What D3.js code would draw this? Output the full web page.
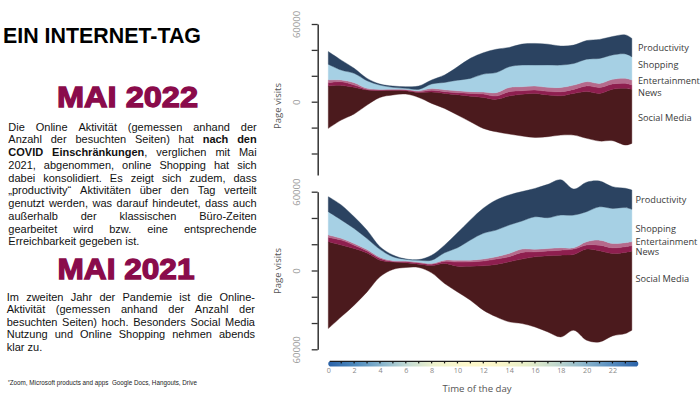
<!DOCTYPE html>
<html>
<head>
<meta charset="utf-8">
<script src="https://cdn.jsdelivr.net/npm/d3@7"></script>
<style>
  body { margin: 0; background: #fff; }
  svg { display: block; }
  .para { font-family: "Liberation Sans", Arial, sans-serif; font-size: 11px; fill: #111; }
  .chart text { font-family: "Open Sans", sans-serif; }
</style>
</head>
<body>
<div id="chart"></div>
<script>
// hour of the day for every sample (the last one is half an hour before midnight)
const hours = [0, 1, 2, 3, 4, 5, 6, 7, 8, 9, 10, 11, 12, 13, 14, 15, 16, 17, 18, 19, 20, 21, 22, 23, 23.5];

// stacking order, bottom to top
const categories = ["Social Media", "News", "Entertainment", "Shopping", "Productivity"];
const categoryColors = ["#4b1a1d", "#8e1f4f", "#b56a8c", "#a6d0e4", "#2b4361"];

// Mai 2022, page visits
const productivity2022 = [9800, 7700, 3900, 1800, 800, 1000, 1300, 2600, 3100, 5700, 10300, 15500, 16500, 18000, 14900, 16200, 16700, 16000, 14700, 14200, 14400, 14700, 14200, 14700, 14200];
const shopping2022 = [12100, 7700, 7200, 5900, 3300, 1500, 800, 1000, 3600, 5700, 8200, 10300, 13900, 15500, 16000, 16700, 16200, 17300, 17300, 16700, 17300, 19300, 18800, 18800, 18000];
const entertainment2022 = [2100, 1300, 1800, 800, 500, 500, 500, 800, 1300, 1500, 1500, 1300, 1500, 2600, 3300, 3100, 3100, 3100, 3300, 3300, 3300, 3100, 3600, 3900, 3900];
const news2022 = [2600, 2800, 1800, 500, 300, 300, 500, 500, 1300, 1300, 1500, 2100, 2600, 2600, 3300, 2800, 2600, 2800, 3100, 3100, 4400, 4600, 4100, 3900, 3300];
const socialMedia2022 = [32700, 26800, 20600, 11600, 5400, 3600, 2600, 3900, 8800, 11600, 15700, 19800, 23900, 25000, 29400, 32200, 34000, 32200, 30400, 32200, 36100, 36800, 39700, 43800, 41700];
// lower edge of the stream
const baseline2022 = [-20600, -14200, -9500, -2600, 3300, 5200, 5900, 3300, -1300, -5200, -10300, -15500, -20600, -23200, -25000, -26500, -27600, -27000, -25800, -25800, -28300, -30400, -30100, -33500, -32200];

// Mai 2021, page visits
const productivity2021 = [11400, 11400, 8900, 6400, 2000, 1300, 300, 500, 3800, 5800, 11400, 15300, 19100, 22900, 22900, 22400, 21600, 25400, 26900, 19800, 22400, 19600, 16500, 14700, 14700];
const shopping2021 = [17800, 14000, 11400, 8400, 6100, 3100, 1300, 1500, 2500, 5600, 9400, 15300, 19600, 20300, 21600, 21400, 24700, 23400, 24900, 24900, 22900, 25400, 26700, 26700, 24700];
const entertainment2021 = [1800, 1300, 1300, 1000, 800, 500, 500, 500, 500, 1000, 1500, 1300, 1500, 1800, 2500, 2500, 2000, 2000, 1800, 1000, 2500, 3800, 3300, 3100, 3100];
const news2021 = [3300, 3800, 2500, 1500, 1300, 500, 800, 1000, 1000, 1500, 3100, 3300, 3600, 4100, 3800, 5100, 3800, 3600, 3800, 4100, 3100, 4300, 4300, 4300, 4100];
const socialMedia2021 = [66100, 54700, 43200, 29700, 12700, 5600, 3600, 2500, 5600, 15300, 19600, 25900, 33800, 39900, 45800, 49100, 53400, 58000, 62300, 57700, 69400, 69400, 62800, 61800, 60200];
const baseline2021 = [-44200, -35300, -26400, -16300, -4800, 800, 2300, 2300, -1800, -9900, -16300, -22600, -30200, -35300, -39100, -40400, -43000, -46800, -50600, -45500, -53100, -54400, -49800, -48000, -45500];

// axis ticks
const visitTicks = [-60000, -40000, -20000, 0, 20000, 40000, 60000];
const hourLabels = [0, 2, 4, 6, 8, 10, 12, 14, 16, 18, 20, 22];
const hourMarks = [1, 2, 3, 4, 5, 6, 7, 8, 9, 10, 11, 12, 13, 14, 15, 16, 17, 18, 19, 20, 21, 22, 23];

// texts ("|" switches bold on/off)
const title = "EIN INTERNET-TAG";
const heading2022 = "MAI 2022";
const text2022 = [
  "Die Online Aktivität (gemessen anhand der",
  "Anzahl der besuchten Seiten) hat |nach den",
  "COVID Einschränkungen|, verglichen mit Mai",
  "2021, abgenommen, online Shopping hat sich",
  "dabei konsolidiert. Es zeigt sich zudem, dass",
  "„productivity“ Aktivitäten über den Tag verteilt",
  "genutzt werden, was darauf hindeutet, dass auch",
  "außerhalb der klassischen Büro-Zeiten",
  "gearbeitet wird bzw. eine entsprechende",
  "Erreichbarkeit gegeben ist."
];
const heading2021 = "MAI 2021";
const text2021 = [
  "Im zweiten Jahr der Pandemie ist die Online-",
  "Aktivität (gemessen anhand der Anzahl der",
  "besuchten Seiten) hoch. Besonders Social Media",
  "Nutzung und Online Shopping nehmen abends",
  "klar zu."
];
const footnote = "Zoom, Microsoft products and apps  Google Docs, Hangouts, Drive";

const svg = d3.select("#chart").append("svg")
  .attr("width", 700)
  .attr("height", 398);

// ---------- left column ----------
svg.append("text")
  .attr("x", 3).attr("y", 42.7)
  .attr("textLength", 198).attr("lengthAdjust", "spacingAndGlyphs")
  .style("font-family", "'Liberation Sans', Arial, sans-serif")
  .style("font-weight", "bold").style("font-size", "22px")
  .attr("fill", "#000")
  .text(title);

function heading(txt, x, y, w) {
  svg.append("text")
    .attr("x", x).attr("y", y)
    .attr("textLength", w).attr("lengthAdjust", "spacingAndGlyphs")
    .style("font-family", "'Liberation Sans', Arial, sans-serif")
    .style("font-weight", "bold").style("font-size", "29.5px")
    .attr("fill", "#8a0b4b").attr("stroke", "#8a0b4b").attr("stroke-width", 1.3)
    .text(txt);
}
heading(heading2022, 57, 107.3, 141);
heading(heading2021, 57.5, 279.3, 137);

function parseLine(line, state) {
  return line.split(" ").map(w => {
    const segs = [];
    w.split("|").forEach((part, k) => {
      if (k > 0) state.bold = !state.bold;
      if (part) segs.push({ text: part, bold: state.bold });
    });
    return segs;
  });
}

// justified paragraph, word by word
function paragraph(lines, x0, x1, y0, lineH) {
  const state = { bold: false };
  lines.forEach((line, li) => {
    const words = parseLine(line, state);
    const y = y0 + li * lineH;
    const nodes = words.map(segs => {
      const t = svg.append("text").attr("class", "para").attr("y", y);
      segs.forEach(s => t.append("tspan")
        .style("font-weight", s.bold ? "bold" : null)
        .text(s.text));
      return t;
    });
    const widths = nodes.map(t => t.node().getComputedTextLength());
    const last = li === lines.length - 1;
    const gap = last ? 3.1 : (x1 - x0 - d3.sum(widths)) / (nodes.length - 1);
    let x = x0;
    nodes.forEach((t, k) => { t.attr("x", x); x += widths[k] + gap; });
  });
}
paragraph(text2022, 8.3, 256.7, 130.7, 12.75);
paragraph(text2021, 6.7, 255, 300.7, 12.5);

const fn = svg.append("text")
  .attr("x", 8).attr("y", 385.3)
  .style("font-family", "'Liberation Sans', Arial, sans-serif")
  .style("font-size", "6.3px")
  .style("white-space", "pre")
  .attr("fill", "#222");
fn.append("tspan").attr("dy", -1.6).style("font-size", "4.5px").text("*");
fn.append("tspan").attr("dy", 1.6).text(footnote);

// ---------- stream charts ----------
const chart = svg.append("g").attr("class", "chart");

const x = d3.scaleLinear().domain([0, 24]).range([328.3, 638.3]);

function baselineOffset(base) {
  return function(series, order) {
    for (let j = 0; j < series[0].length; j++) {
      let y = base[j];
      for (const i of order) {
        const v = series[i][j][1] - series[i][j][0];
        series[i][j][0] = y;
        series[i][j][1] = y += v;
      }
    }
  };
}

function streamChart(values, base, yRange, labelY, labelX, labelled) {
  const rows = hours.map((h, i) => {
    const r = { hour: h };
    categories.forEach((c, k) => r[c] = values[k][i]);
    return r;
  });

  const y = d3.scaleLinear().domain([-60000, 60000]).range(yRange);

  const stacked = d3.stack()
    .keys(categories)
    .offset(baselineOffset(base))(rows);

  const area = d3.area()
    .x(d => x(d.data.hour))
    .y0(d => y(d[0]))
    .y1(d => y(d[1]))
    .curve(d3.curveCatmullRom.alpha(0.5));

  chart.append("g").selectAll("path")
    .data(stacked)
    .enter().append("path")
    .attr("d", area)
    .attr("fill", (d, i) => categoryColors[i])
    .attr("stroke", (d, i) => categoryColors[i])
    .attr("stroke-width", 0.4);

  const axis = chart.append("g")
    .attr("transform", "translate(317.7,0)")
    .call(d3.axisLeft(y)
      .tickValues(visitTicks)
      .tickSize(6)
      .tickSizeOuter(0)
      .tickFormat(d => labelled.includes(d) ? Math.abs(d) : ""));
  axis.select(".domain").attr("stroke", "#333").attr("stroke-width", 1.5);
  axis.selectAll(".tick line").attr("stroke", "#333").attr("stroke-width", 1.3);
  axis.selectAll(".tick text")
    .attr("transform", "rotate(-90)")
    .attr("x", 0).attr("y", -18).attr("dy", null)
    .attr("text-anchor", "middle")
    .attr("fill", "#999")
    .style("font-size", "9.5px")
    .style("font-family", "'Open Sans', sans-serif");

  chart.append("text")
    .attr("transform", `translate(281,${labelY.axis}) rotate(-90)`)
    .attr("text-anchor", "middle")
    .attr("fill", "#555")
    .style("font-size", "9.5px")
    .text("Page visits");

  // series names at the right end of the stream
  chart.append("g").selectAll("text")
    .data(categories)
    .enter().append("text")
    .attr("x", labelX)
    .attr("y", d => labelY[d])
    .attr("fill", "#3a3a3a")
    .style("font-size", "9.2px")
    .text(d => d);
}

streamChart(
  [socialMedia2022, news2022, entertainment2022, shopping2022, productivity2022],
  baseline2022, [179.4, 24],
  { axis: 106, "Productivity": 50.7, "Shopping": 67.7, "Entertainment": 84, "News": 96, "Social Media": 121.3 },
  638, [0, 60000]);

// the lower chart sits over the bottom of the upper one
chart.append("rect")
  .attr("x", 262).attr("y", 175.5)
  .attr("width", 438).attr("height", 223)
  .attr("fill", "#fff");

streamChart(
  [socialMedia2021, news2021, entertainment2021, shopping2021, productivity2021],
  baseline2021, [349.3, 191.7],
  { axis: 271, "Productivity": 203.3, "Shopping": 231.7, "Entertainment": 244.6, "News": 254.6, "Social Media": 282.3 },
  635.5, [-60000, 0, 60000]);

// ---------- time of day colour bar ----------
const grad = svg.append("defs").append("linearGradient")
  .attr("id", "dayGradient")
  .attr("x1", "0%").attr("x2", "100%");
[[0, "#2a62a8"], [0.09, "#4f8bbd"], [0.18, "#8db8cd"], [0.26, "#c6dcd3"],
 [0.34, "#edf1cc"], [0.45, "#fdf8cb"], [0.55, "#fbf6c9"], [0.64, "#e7eec8"],
 [0.73, "#c4dacd"], [0.82, "#8fb8cc"], [0.91, "#5a8fc0"], [1, "#2a62a8"]]
  .forEach(s => grad.append("stop").attr("offset", s[0]).attr("stop-color", s[1]));

const bar = chart.append("g");
bar.append("rect")
  .attr("x", x(0)).attr("y", 361)
  .attr("width", x(24) - x(0)).attr("height", 5.6)
  .attr("rx", 2.8)
  .attr("fill", "url(#dayGradient)");
bar.append("line")
  .attr("x1", x(0) + 1.5).attr("x2", x(24) - 1.5)
  .attr("y1", 361.4).attr("y2", 361.4)
  .attr("stroke", "#1a1a1a").attr("stroke-width", 1.1);
bar.selectAll(".mark")
  .data(hourMarks)
  .enter().append("rect")
  .attr("class", "mark")
  .attr("x", d => x(d) - 0.6).attr("y", 361.6)
  .attr("width", 1.2).attr("height", 1.8)
  .attr("fill", "#111");

const hourAxis = chart.append("g")
  .attr("transform", "translate(0,366.6)")
  .call(d3.axisBottom(x).tickValues(hourLabels).tickSize(0).tickPadding(1.5));
hourAxis.select(".domain").remove();
hourAxis.selectAll("text")
  .attr("fill", "#888")
  .style("font-size", "7.2px")
  .style("font-family", "'Open Sans', sans-serif");

chart.append("text")
  .attr("x", 477).attr("y", 392)
  .attr("text-anchor", "middle")
  .attr("fill", "#555")
  .style("font-size", "9.6px")
  .text("Time of the day");
</script>
</body>
</html>
